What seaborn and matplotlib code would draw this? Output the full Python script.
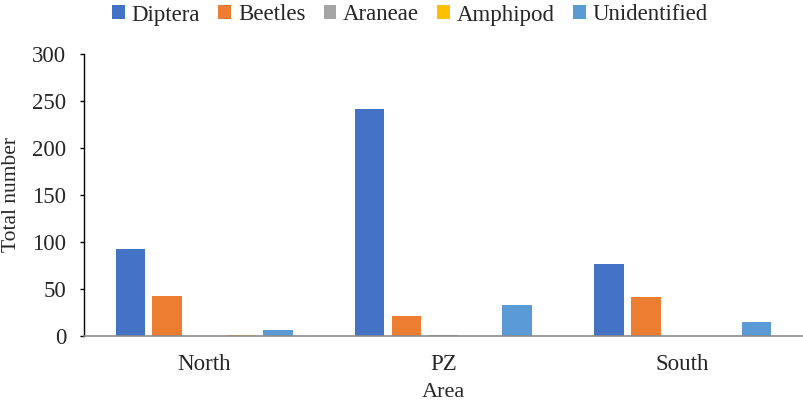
import matplotlib
matplotlib.use("Agg")
import matplotlib.pyplot as plt
import seaborn as sns
import pandas as pd

areas = ["North", "PZ", "South"]
taxa = ["Diptera", "Beetles", "Araneae", "Amphipod", "Unidentified"]
diptera = [92, 241, 76]
beetles = [42, 21, 41]
araneae = [0, 1, 0]
amphipod = [1, 0, 0]
unidentified = [6, 33, 15]
colors = ["#4472C4", "#ED7D31", "#A5A5A5", "#FFC000", "#5B9BD5"]

rows = []
for taxon, vals in zip(taxa, [diptera, beetles, araneae, amphipod, unidentified]):
    for area, v in zip(areas, vals):
        rows.append({"Area": area, "Taxon": taxon, "Total": v})
df = pd.DataFrame(rows)

sns.set_style("white")
plt.rcParams["font.family"] = ["Liberation Serif", "DejaVu Serif"]

fig = plt.figure(figsize=(8.04, 4.07), dpi=100)
ax = fig.add_axes([0.105, 0.175, 0.893, 0.693])

sns.barplot(data=df, x="Area", y="Total", hue="Taxon", hue_order=taxa,
            palette=colors, width=0.77, gap=0.2, saturation=1, ax=ax,
            edgecolor="none", legend=True)

ax.set_ylim(0, 300)
ax.set_yticks(range(0, 301, 50))
ax.set_xlim(-0.5, 2.5)
ax.set_xlabel("Area", fontsize=16, labelpad=6)
ax.set_ylabel("Total number", fontsize=15.5, labelpad=8)
ax.tick_params(axis="x", labelsize=16.5, length=0, pad=13)
ax.tick_params(axis="y", labelsize=16.5, length=3, width=1, direction="out",
               pad=10, color="black", left=True)
for s in ["top", "right"]:
    ax.spines[s].set_visible(False)
ax.spines["left"].set_color("black")
ax.spines["left"].set_linewidth(1.0)
ax.spines["bottom"].set_color("#8c8c8c")
ax.spines["bottom"].set_linewidth(1.2)

ax.legend(loc="center", bbox_to_anchor=(410 / 804, 1 - 15 / 407),
          bbox_transform=fig.transFigure, ncol=5, frameon=False,
          prop={"family": ["Liberation Serif", "DejaVu Serif"], "size": 16.5},
          handlelength=0.55, handleheight=0.55, handletextpad=0.3,
          columnspacing=0.8, borderaxespad=0.0)

fig.savefig("out.png", dpi=100)
